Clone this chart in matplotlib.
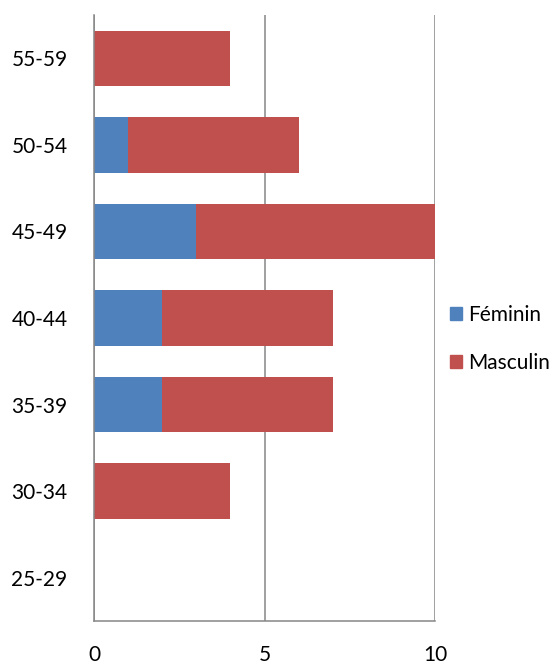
import matplotlib.pyplot as plt
import numpy as np
from matplotlib.patches import Patch

ages = ["25-29", "30-34", "35-39", "40-44", "45-49", "50-54", "55-59"]
feminin = [0, 0, 2, 2, 3, 1, 0]
masculin = [0, 4, 5, 5, 7, 5, 4]

blue = "#4F81BD"
red = "#C0504D"
grey = "#868686"

plt.rcParams['font.family'] = ['Lato', 'DejaVu Sans']

fig = plt.figure(figsize=(5.57, 6.64), dpi=100)
ax = fig.add_axes([94 / 557, 1 - 621 / 664, (435 - 94) / 557, (621 - 15) / 664])

y = np.arange(len(ages))
ax.barh(y, feminin, height=0.64, color=blue, label="Féminin")
ax.barh(y, masculin, left=feminin, height=0.64, color=red, label="Masculin")

ax.set_xlim(0, 10)
ax.set_ylim(-0.5, len(ages) - 0.5)
ax.set_xticks([0, 5, 10])
ax.set_yticks(y)
ax.set_yticklabels(ages)
ax.tick_params(axis='both', length=0, labelsize=15, colors='black')
ax.tick_params(axis='x', pad=17)
ax.tick_params(axis='y', pad=19)

ax.set_axisbelow(True)
ax.xaxis.grid(True, color=grey, linewidth=1.1)
for s in ['top', 'right']:
    ax.spines[s].set_visible(False)
for s in ['left', 'bottom']:
    ax.spines[s].set_color(grey)
    ax.spines[s].set_linewidth(1.1)

handles = [Patch(color=blue, label="Féminin"), Patch(color=red, label="Masculin")]
fig.legend(handles=handles, loc='center left', bbox_to_anchor=(431 / 557, 1 - 339 / 664),
           frameon=False, fontsize=15, handlelength=0.6, handleheight=0.6,
           handletextpad=0.3, labelspacing=1.35)

fig.savefig("out.png", dpi=100)
